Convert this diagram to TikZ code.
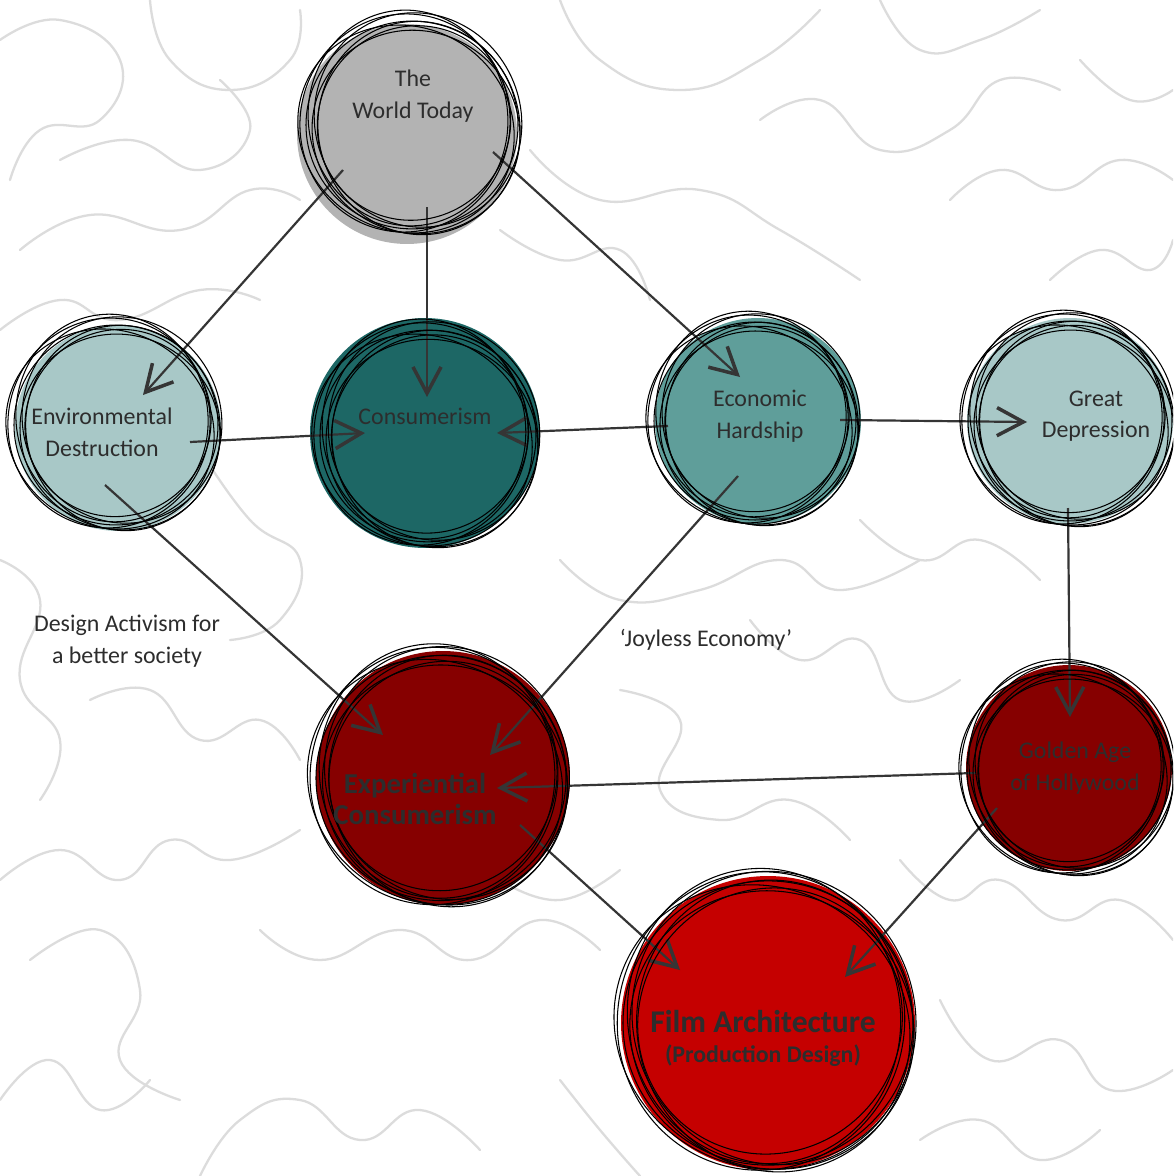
\documentclass[tikz,border=0pt]{standalone}
\usepackage{fontspec}
\setmainfont{Carlito}
\usetikzlibrary{arrows.meta,calc}
\definecolor{cgray}{HTML}{B3B3B3}
\definecolor{lteal}{HTML}{A8C8C7}
\definecolor{dteal}{HTML}{1D6765}
\definecolor{mteal}{HTML}{5F9E9A}
\definecolor{dred}{HTML}{860000}
\definecolor{bred}{HTML}{C50000}
\definecolor{txt}{HTML}{2D2D2D}
\definecolor{bgl}{HTML}{DCDCDC}
\definecolor{arrc}{HTML}{353535}
\tikzset{
  bub/.style={circle, inner sep=0pt, draw=none},
  lab/.style={text=txt, font=\fontsize{13.6}{18}\selectfont, align=center, inner sep=0pt},
  blab/.style={text=txt, font=\bfseries\fontsize{16.4}{18}\selectfont, align=center, inner sep=0pt},
  conn/.style={draw=arrc, line width=1.25pt, -{Straight Barb[length=15pt,width=16pt,line width=2pt]}},
  scrl/.style={draw=black, line width=0.6pt},
  bgline/.style={draw=bgl, line width=1.3pt, line cap=round, line join=round},
}
\newcommand\myscrib[4]{%
  \foreach \dx/\dy/\fa/\fb/\rot in {0/0/1.00/0.98/0, 6/-5/0.97/1.02/25, -6/4/1.04/0.96/-30, 4/7/0.95/0.99/60, -4/-7/1.02/0.94/100, 2/-2/0.90/0.93/140, -7/-2/0.99/1.03/170, 7/3/1.01/0.95/-75}{%
    \draw[scrl] ($(#1.center)+(#3,#4)+(\dx,\dy)$) ellipse [x radius={\fa*#2*0.02cm}, y radius={\fb*#2*0.02cm}, rotate=\rot];}}
\begin{document}
\begin{tikzpicture}[x=0.02cm,y=-0.02cm]
\useasboundingbox (0,0) rectangle (1173,1176);
\clip (0,0) rectangle (1173,1176);
\fill[white] (0,0) rectangle (1173,1176);
% background texture
\foreach \c in {
 {(0,40) (60,20) (120,60) (100,120) (40,130) (10,180)},
 {(20,250) (90,215) (180,230) (250,190) (300,200)},
 {(150,0) (170,60) (230,90) (290,60) (300,10)},
 {(0,330) (60,300) (120,320) (200,290) (260,300)},
 {(60,160) (130,140) (200,170) (250,130) (220,80)},
 {(560,0) (600,60) (680,90) (760,60) (820,10)},
 {(530,150) (600,200) (700,190) (780,230) (860,280)},
 {(760,120) (820,100) (880,150) (950,130) (1000,80) (1060,90)},
 {(880,0) (920,50) (980,40) (1040,10)},
 {(950,200) (1000,170) (1060,190) (1120,160) (1173,180)},
 {(1050,280) (1100,250) (1150,270) (1173,240)},
 {(1080,60) (1130,100) (1173,90)},
 {(0,560) (40,600) (20,680) (60,740) (40,800)},
 {(90,700) (150,690) (200,740) (260,720) (300,760)},
 {(0,880) (60,850) (120,880) (170,840) (230,860) (300,830)},
 {(30,960) (100,930) (140,990) (120,1060) (180,1100)},
 {(200,1176) (240,1120) (300,1100) (360,1140) (420,1110) (480,1150)},
 {(260,930) (320,960) (400,930) (470,960) (540,920) (600,950)},
 {(620,690) (680,720) (660,790) (720,820) (790,800) (850,840)},
 {(750,620) (800,660) (860,640) (900,700) (960,680)},
 {(560,560) (620,600) (700,590) (780,560) (840,590) (920,560)},
 {(900,860) (950,900) (1000,880) (1060,920) (1120,900) (1173,940)},
 {(940,1000) (990,1060) (1060,1040) (1110,1090) (1173,1070)},
 {(920,1140) (980,1120) (1040,1160) (1100,1130)},
 {(200,450) (250,520) (300,560) (280,620) (230,640)},
 {(500,230) (560,260) (620,250) (650,300)},
 {(0,1100) (50,1060) (100,1110) (150,1080)},
 {(860,520) (920,560) (980,540) (1040,580)},
 {(560,1080) (600,1130) (640,1176)},
 {(500,880) (560,900) (620,870)}}
 {\draw[bgline] plot[smooth, tension=0.8] coordinates \c;}
% filled bubbles
\node[bub, fill=cgray, minimum size=4.4cm]  (wt) at (407,134) {};
\node[bub, fill=lteal, minimum size=4.12cm] (ed) at (118,428) {};
\node[bub, fill=dteal, minimum size=4.6cm]  (co) at (425,433) {};
\node[bub, fill=mteal, minimum size=4.12cm] (eh) at (758,421) {};
\node[bub, fill=lteal, minimum size=4.12cm] (gd) at (1070,421) {};
\node[bub, fill=dred, minimum size=5.08cm]  (ec) at (443,778) {};
\node[bub, fill=dred, minimum size=4.12cm]  (ga) at (1069,768) {};
\node[bub, fill=bred, minimum size=5.88cm]  (fa) at (768,1023) {};
% connectors
\draw[conn] ($(wt.center)+(-64,36)$) -- ($(ed.center)+(25,-33)$);
\draw[conn] ($(wt.center)+(20,73)$) -- ($(co.center)+(2,-36)$);
\draw[conn] ($(wt.center)+(86,18)$) -- ($(eh.center)+(-18,-44)$);
\draw[conn] ($(ed.center)+(72,14)$) -- ($(co.center)+(-60,0)$);
\draw[conn] ($(eh.center)+(-90,5)$) -- ($(co.center)+(72,0)$);
\draw[conn] ($(eh.center)+(82,-1)$) -- ($(gd.center)+(-43,1)$);
\draw[conn] ($(ed.center)+(-13,57)$) -- ($(ec.center)+(-60,-43)$);
\draw[conn] ($(eh.center)+(-20,55)$) -- ($(ec.center)+(47,-23)$);
\draw[conn] ($(gd.center)+(-2,87)$) -- ($(ga.center)+(1,-51)$);
\draw[conn] ($(ga.center)+(-94,5)$) -- ($(ec.center)+(54,10)$);
\draw[conn] ($(ec.center)+(77,47)$) -- ($(fa.center)+(-88,-53)$);
\draw[conn] ($(ga.center)+(-72,40)$) -- ($(fa.center)+(77,-46)$);
% sketchy outlines
\myscrib{wt}{106}{5}{-9}
\myscrib{ed}{102}{-2}{-3}
\myscrib{co}{108}{3}{3}
\myscrib{eh}{101}{-3}{0}
\myscrib{gd}{102}{0}{0}
\myscrib{ec}{125}{-2}{0}
\myscrib{ga}{102}{0}{2}
\myscrib{fa}{145}{0}{0}
% texts
\node[lab] (wtT) at (413,96) {The\\World Today};
\node[lab] (edT) at (102,432) {Environmental\\Destruction};
\node[lab] (coT) at (425,416) {Consumerism};
\node[lab] (ehT) at (760,416) {Economic\\Hardship};
\node[lab] (gdT) at (1096,416) {Great\\Depression};
\node[blab] (ecT) at (415,799) {Experiential\\Consumerism};
\node[lab] (gaT) at (1075,768) {Golden Age\\of Hollywood};
\node[text=txt, font=\bfseries\fontsize{18}{20}\selectfont, inner sep=0pt] (faT1) at (763,1022) {Film Architecture};
\node[text=txt, font=\bfseries\fontsize{13.6}{16}\selectfont, inner sep=0pt] (faT2) at (763,1056) {(Production Design)};
\node[lab] (act) at (127,641) {Design Activism for\\a better society};
\node[lab] (joy) at (706,640) {‘Joyless Economy’};
\end{tikzpicture}
\end{document}
